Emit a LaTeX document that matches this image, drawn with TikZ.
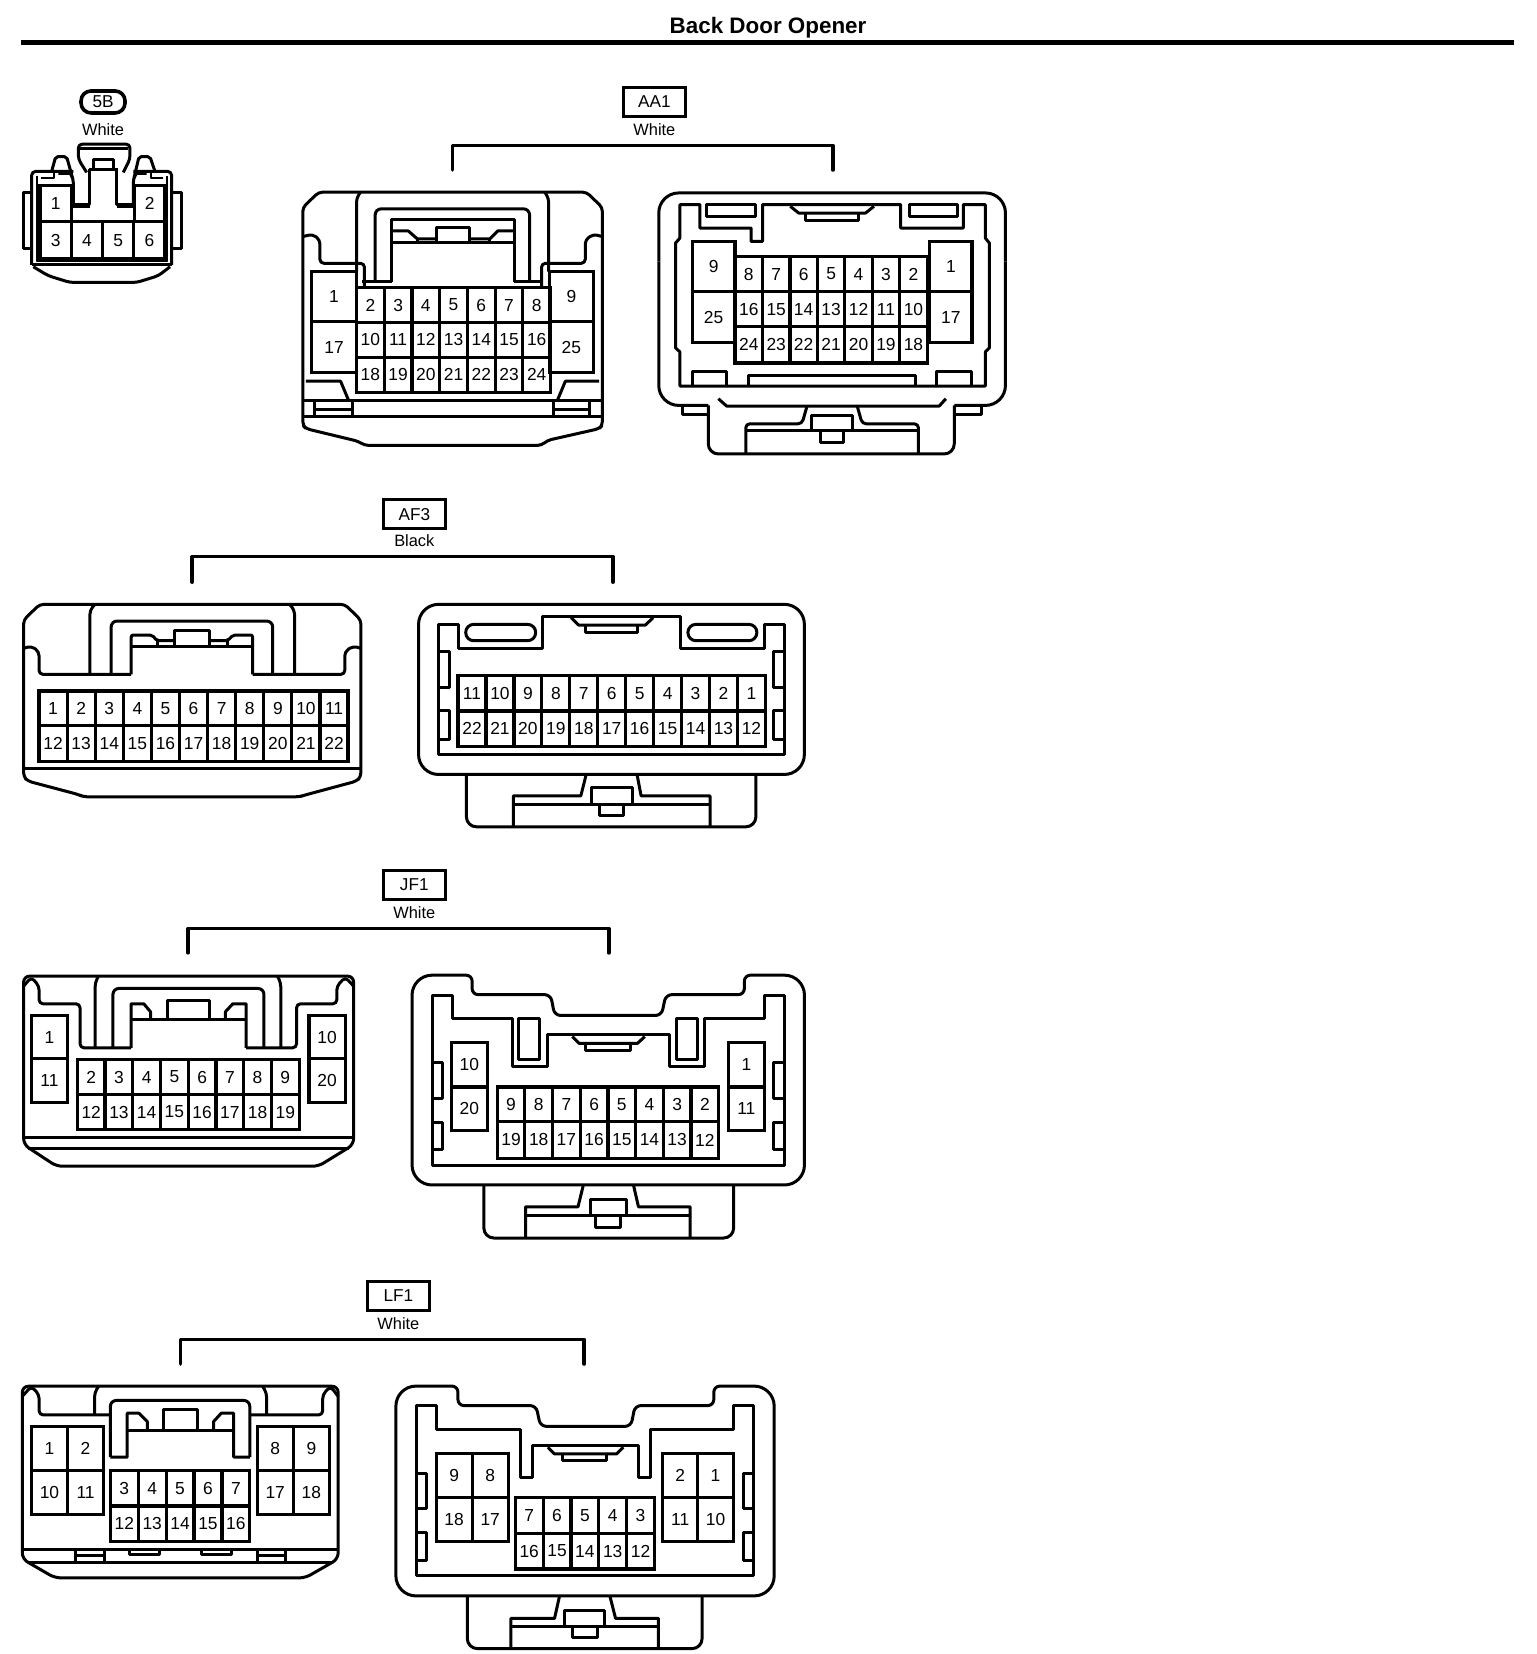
\documentclass[tikz,border=0pt]{standalone}
\usepackage{fontspec}
\setmainfont{Liberation Sans}
\usepackage{tikz}

\newcommand{\pinrow}[6]{%
  \foreach \lab [count=\i from 0] in {#2} {
    \draw [pinbox] ({#3+\i*#4},#5) rectangle node [pinlabel] (#1\lab) {\lab} ({#3+(\i+1)*#4},#6);
  }
}
\newcommand{\pincell}[6]{%
  \draw [pinbox] (#3,#4) rectangle node [pinlabel] (#1#2) {#2} (#5,#6);
}
\newcommand{\sidetab}[5]{%
  \draw [part] (#1,#3) -- (#2,#3) -- (#2,#4) -- (#1,#4);
  \draw [part] (#1,#5) -- (#2,#5);
}

\begin{document}
\begin{tikzpicture}
  [x=0.5312pt, y=-0.5312pt,
  part/.style={draw, line width=1.5pt, line join=round},
  thinpart/.style={draw, line width=0.9pt, line join=round},
  pinbox/.style={draw, line width=1.6pt, line join=miter},
  pinlabel/.style={font=\fontsize{8.7}{10}\selectfont, inner sep=0pt},
  tagbox/.style={rectangle, draw, line width=1.6pt, minimum width=31pt, minimum height=14.5pt, inner sep=0pt, font=\fontsize{8.6}{10}\selectfont},
  colour/.style={font=\fontsize{8.2}{10}\selectfont, inner sep=0pt},
  bracket/.style={draw, line width=1.8pt, line join=round, line cap=round},
  rule/.style={draw, line width=2.5pt}]
  \path [fill=white] (0,0) rectangle (1446,1557);
  \useasboundingbox (0,0) rectangle (1446,1557);

  % title
  \node [font=\bfseries\fontsize{11.2}{13}\selectfont, inner sep=0pt] (title) at (723,26) {Back Door Opener};
  \coordinate (rulea) at (20,40);
  \coordinate (ruleb) at (1425,40);
  \path [rule] (rulea) -- (ruleb);

  % labels
  \node [tagbox, minimum width=22pt, minimum height=11pt, rounded corners=5pt, line width=1.8pt] (tag5b) at (97,96) {5B};
  \node [colour] (col5b) at (97,122) {White};
  \node [tagbox] (tagaa1) at (616,96) {AA1};
  \node [colour] (colaa1) at (616,122) {White};
  \node [tagbox] (tagaf3) at (390,484) {AF3};
  \node [colour] (colaf3) at (390,509) {Black};
  \node [tagbox] (tagjf1) at (390,833) {JF1};
  \node [colour] (coljf1) at (390,859) {White};
  \node [tagbox] (taglf1) at (375,1220) {LF1};
  \node [colour] (collf1) at (375,1246) {White};

  % brackets
  \coordinate (aa1a) at (426,160);
  \coordinate (aa1t) at (605,137);
  \coordinate (aa1b) at (784,160);
  \path [bracket] (aa1a) |- (aa1t) -| (aa1b);
  \coordinate (af3a) at (181,548);
  \coordinate (af3t) at (379,524);
  \coordinate (af3b) at (577,548);
  \path [bracket] (af3a) |- (af3t) -| (af3b);
  \coordinate (jf1a) at (177,897);
  \coordinate (jf1t) at (375,874);
  \coordinate (jf1b) at (573,897);
  \path [bracket] (jf1a) |- (jf1t) -| (jf1b);
  \coordinate (lf1a) at (170,1284);
  \coordinate (lf1t) at (360,1261);
  \coordinate (lf1b) at (550,1284);
  \path [bracket] (lf1a) |- (lf1t) -| (lf1b);

  % 5B
  \begin{scope}[shift={(14.1,132.5)}, x=0.1667pt, y=-0.1667pt]
    \draw [part, rounded corners=2pt] (50,372) -- (50,92) -- (175,92);
    \draw [part, rounded corners=2pt] (355,92) -- (470,92) -- (470,372);
    \draw [part] (50,372) -- (470,372);
    \draw [thinpart] (65,105) -- (65,362) -- (457,362) -- (457,105);
    \draw [part] (50,155) -- (25,155) -- (25,322) -- (50,322);
    \draw [part] (470,155) -- (498,155) -- (498,322) -- (470,322);
    \draw [part, rounded corners=2pt] (55,378) -- (100,405) -- (165,425) -- (365,425) -- (430,405) -- (465,378);
    \draw [part, rounded corners=2pt] (215,95) -- (190,55) -- (190,10) -- (345,10) -- (345,55) -- (325,95);
    \draw [part] (195,22) -- (340,22);
    \draw [part] (235,85) -- (235,55) -- (295,55) -- (295,85);
    \draw [part] (222,85) -- (308,85);
    \draw [part] (225,85) -- (225,190) -- (175,190);
    \draw [part] (305,85) -- (305,190) -- (358,190);
    \draw [part] (175,197) -- (225,197);
    \draw [part] (305,197) -- (358,197);
    \draw [part, rounded corners=1pt] (110,92) -- (122,48) -- (155,48) -- (175,120) -- (175,197);
    \draw [part, rounded corners=1pt] (420,92) -- (405,48) -- (372,48) -- (355,120) -- (355,197);
    \draw [thinpart] (78,112) -- (118,112) -- (118,95);
    \draw [thinpart] (130,100) -- (165,100) -- (175,120);
    \draw [thinpart] (445,112) -- (408,112) -- (408,95);
    \draw [thinpart] (395,100) -- (365,100) -- (355,120);
    \pincell{c5b}{1}{75}{135}{170}{243}
    \pincell{c5b}{2}{358}{135}{450}{243}
    \pinrow{c5b}{3,4,5,6}{75}{93.75}{243}{355}
  \end{scope}

  % AA1 left
  \begin{scope}[shift={(0.4,1)}, x=0.19894pt, y=-0.16706pt]
    \draw [part, rounded corners=2pt] (800,572) -- (1473,572) -- (1513,618) -- (1513,1270) -- (1505,1280) -- (1375,1315) -- (1360,1330) -- (915,1330) -- (900,1318) -- (768,1280) -- (760,1270) -- (760,618) -- cycle;
    \draw [part, rounded corners=2pt] (895,810) -- (895,590) -- (905,572);
    \draw [part, rounded corners=2pt] (1378,810) -- (1378,590) -- (1368,572);
    \draw [part, rounded corners=3pt] (942,840) -- (942,622) -- (1330,622) -- (1330,840);
    \draw [part] (983,840) -- (983,655) -- (1292,655) -- (1292,840);
    \draw [part] (910,840) -- (983,840);
    \draw [part] (1292,840) -- (1365,840);
    \draw [part, rounded corners=2pt] (760,705) -- (785,698) -- (803,715) -- (803,785) -- (915,785) -- (915,858);
    \draw [part, rounded corners=2pt] (1513,705) -- (1490,698) -- (1470,715) -- (1470,785) -- (1360,785) -- (1360,858);
    \draw [part] (985,688) -- (1025,688) -- (1048,712) -- (1095,712);
    \draw [part] (1095,722) -- (1095,678) -- (1180,678) -- (1180,722);
    \draw [part] (1180,712) -- (1230,712) -- (1250,688) -- (1292,688);
    \draw [part] (985,722) -- (1292,722);
    \draw [part] (1048,712) -- (1048,722);
    \draw [part] (1230,712) -- (1230,722);
    \pinrow{aal}{2,3,4,5,6,7,8}{895}{69.7}{858}{962}
    \pinrow{aal}{10,11,12,13,14,15,16}{895}{69.7}{962}{1066}
    \pinrow{aal}{18,19,20,21,22,23,24}{895}{69.7}{1066}{1172}
    \pincell{aal}{1}{782}{810}{895}{960}
    \pincell{aal}{17}{782}{960}{895}{1112}
    \pincell{aal}{9}{1380}{810}{1490}{960}
    \pincell{aal}{25}{1380}{960}{1490}{1112}
    \draw [part] (768,1138) -- (855,1138) -- (875,1195);
    \draw [part] (1505,1138) -- (1420,1138) -- (1400,1195);
    \draw [part] (760,1195) -- (1513,1195);
    \draw [part] (760,1245) -- (1513,1245);
    \draw [part] (790,1195) -- (790,1245);
    \draw [part] (885,1195) -- (885,1245);
    \draw [part] (790,1222) -- (885,1222);
    \draw [part] (1390,1195) -- (1390,1245);
    \draw [part] (1480,1195) -- (1480,1245);
    \draw [part] (1390,1222) -- (1480,1222);
  \end{scope}

  % AA1 right
  \begin{scope}[shift={(588,57.2)}, x=0.16733pt, y=-0.16733pt]
    \draw [part, rounded corners=10pt] (102,600) -- (102,395) -- (1138,395) -- (1138,600);
    \draw [part, rounded corners=10pt] (102,600) -- (102,1030) -- (250,1030);
    \draw [part, rounded corners=10pt] (1138,600) -- (1138,1030) -- (985,1030);
    \draw [part] (172,1030) -- (172,1057) -- (250,1057);
    \draw [part] (1065,1030) -- (1065,1057) -- (985,1057);
    \draw [part, rounded corners=5pt] (250,1030) -- (250,1175) -- (985,1175) -- (985,1030);
    \draw [part] (165,430) -- (225,430) -- (225,500) -- (378,500) -- (378,540) -- (412,540) -- (412,430) -- (825,430) -- (825,500) -- (1012,500) -- (1012,430) -- (1078,430) -- (1078,530) -- (1090,545) -- (1090,858) -- (1078,870) -- (1078,972) -- (165,972) -- (165,870) -- (152,858) -- (152,545) -- (165,530) -- cycle;
    \draw [part] (245,430) rectangle (390,465);
    \draw [part] (850,430) rectangle (995,465);
    \draw [part] (495,435) -- (520,455) -- (720,455) -- (745,435);
    \draw [part] (540,455) -- (540,478) -- (698,478) -- (698,455);
    \pinrow{aar}{8,7,6,5,4,3,2}{330}{82}{585}{690}
    \pinrow{aar}{16,15,14,13,12,11,10}{330}{82}{690}{795}
    \pinrow{aar}{24,23,22,21,20,19,18}{330}{82}{795}{903}
    \pincell{aar}{9}{202}{540}{330}{690}
    \pincell{aar}{25}{202}{690}{330}{843}
    \pincell{aar}{1}{912}{540}{1038}{690}
    \pincell{aar}{17}{912}{690}{1038}{843}
    \draw [part] (202,972) -- (202,928) -- (305,928) -- (305,972);
    \draw [part] (370,972) -- (370,940) -- (868,940) -- (868,972);
    \draw [part] (933,972) -- (933,928) -- (1038,928) -- (1038,972);
    \draw [part] (280,1010) -- (305,1032) -- (940,1032) -- (960,1010);
    \draw [part, rounded corners=2pt] (545,1032) -- (530,1085) -- (362,1085) -- (362,1175);
    \draw [part, rounded corners=2pt] (695,1032) -- (710,1085) -- (878,1085) -- (878,1175);
    \draw [part] (362,1105) -- (878,1105);
    \draw [part] (558,1105) -- (558,1060) -- (680,1060) -- (680,1105);
    \draw [part] (585,1105) -- (585,1142) -- (655,1142) -- (655,1105);
  \end{scope}

  % AF3 left
  \begin{scope}[shift={(-0.5,456.5)}, x=0.16765pt, y=-0.1668pt]
    \draw [part, rounded corners=2pt] (120,358) -- (1030,358) -- (1078,405) -- (1078,875) -- (1065,888) -- (910,930) -- (895,935) -- (250,935) -- (235,928) -- (85,888) -- (72,875) -- (72,405) -- cycle;
    \draw [part, rounded corners=2pt] (270,568) -- (270,375) -- (285,358);
    \draw [part, rounded corners=2pt] (880,568) -- (880,375) -- (865,358);
    \draw [part, rounded corners=3pt] (333,568) -- (333,408) -- (815,408) -- (815,568);
    \draw [part, rounded corners=1pt] (393,568) -- (393,450) -- (455,450) -- (470,467) -- (523,467);
    \draw [part] (523,485) -- (523,437) -- (625,437) -- (625,485);
    \draw [part, rounded corners=1pt] (625,467) -- (680,467) -- (697,450) -- (755,450) -- (755,568);
    \draw [part] (393,485) -- (755,485);
    \draw [part] (470,467) -- (470,485);
    \draw [part] (680,467) -- (680,485);
    \draw [part, rounded corners=2pt] (72,490) -- (95,483) -- (118,500) -- (118,568) -- (393,568);
    \draw [part, rounded corners=2pt] (1078,490) -- (1055,483) -- (1030,500) -- (1030,568) -- (755,568);
    \pinrow{afl}{1,2,3,4,5,6,7,8,9,10,11}{118}{83.8}{618}{722}
    \pinrow{afl}{12,13,14,15,16,17,18,19,20,21,22}{118}{83.8}{722}{828}
    \draw [part] (72,850) -- (1078,850);
  \end{scope}

  % AF3 right
  \begin{scope}[shift={(379.2,456.5)}, x=0.16733pt, y=-0.1668pt]
    \draw [part, rounded corners=10pt] (47,358) rectangle (1200,868);
    \draw [part] (108,418) -- (165,418) -- (165,490) -- (418,490) -- (418,395) -- (830,395) -- (830,490) -- (1082,490) -- (1082,418) -- (1140,418) -- (1140,808) -- (108,808) -- cycle;
    \draw [part, rounded corners=4pt] (188,418) rectangle (397,467);
    \draw [part, rounded corners=4pt] (852,418) rectangle (1058,467);
    \draw [part] (503,398) -- (525,420) -- (725,420) -- (748,398);
    \draw [part] (545,420) -- (545,443) -- (702,443) -- (702,420);
    \sidetab{108}{138}{500}{607}{607}
    \sidetab{108}{138}{675}{762}{762}
    \sidetab{1140}{1108}{500}{607}{607}
    \sidetab{1140}{1108}{675}{762}{762}
    \pinrow{afr}{11,10,9,8,7,6,5,4,3,2,1}{165}{83.5}{572}{678}
    \pinrow{afr}{22,21,20,19,18,17,16,15,14,13,12}{165}{83.5}{678}{783}
    \draw [part, rounded corners=5pt] (190,868) -- (190,1025) -- (1055,1025) -- (1055,868);
    \draw [part] (548,868) -- (532,932) -- (330,932) -- (330,1025);
    \draw [part] (700,868) -- (712,932) -- (918,932) -- (918,1025);
    \draw [part] (330,958) -- (918,958);
    \draw [part] (565,958) -- (565,908) -- (685,908) -- (685,958);
    \draw [part] (587,958) -- (587,992) -- (660,992) -- (660,958);
  \end{scope}

  % JF1 left
  \begin{scope}[shift={(-0.5,807.4)}, x=0.16786pt, y=-0.1668pt]
    \draw [part, rounded corners=3pt] (72,355) -- (1055,355) -- (1055,860) -- (950,925) -- (170,925) -- (72,860) -- cycle;
    \draw [part] (72,838) -- (1055,838);
    \draw [part] (85,873) -- (1040,873);
    \draw [part, rounded corners=2pt] (72,385) -- (95,358) -- (118,385) -- (118,438) -- (240,438) -- (240,570) -- (392,570);
    \draw [part, rounded corners=2pt] (1055,385) -- (1030,358) -- (1005,385) -- (1005,438) -- (885,438) -- (885,570) -- (735,570);
    \draw [part, rounded corners=2pt] (285,570) -- (285,375) -- (295,355);
    \draw [part, rounded corners=2pt] (838,570) -- (838,375) -- (828,355);
    \draw [part, rounded corners=3pt] (338,570) -- (338,392) -- (788,392) -- (788,570);
    \draw [part] (392,570) -- (392,438) -- (430,438) -- (450,462) -- (450,485);
    \draw [part] (735,570) -- (735,438) -- (695,438) -- (673,462) -- (673,485);
    \draw [part] (392,485) -- (735,485);
    \draw [part] (500,485) -- (500,428) -- (625,428) -- (625,485);
    \pinrow{jfl}{2,3,4,5,6,7,8,9}{232}{82.6}{605}{710}
    \pinrow{jfl}{12,13,14,15,16,17,18,19}{232}{82.6}{710}{815}
    \pincell{jfl}{1}{95}{473}{203}{603}
    \pincell{jfl}{11}{95}{603}{203}{735}
    \pincell{jfl}{10}{922}{473}{1030}{603}
    \pincell{jfl}{20}{922}{603}{1030}{735}
  \end{scope}

  % JF1 right
  \begin{scope}[shift={(380,900.6)}, x=0.16701pt, y=-0.16786pt]
    \draw [part, rounded corners=10pt] (25,300) -- (25,55) [rounded corners=3pt] -- (205,55) -- (205,113) -- (440,113) -- (452,175) -- (772,175) -- (785,113) -- (1020,113) -- (1020,55) [rounded corners=10pt] -- (1200,55) -- (1200,680) -- (25,680) -- cycle;
    \draw [part] (85,115) -- (147,115) -- (147,185) -- (325,185) -- (325,328) -- (430,328) -- (430,232) -- (795,232) -- (795,328) -- (900,328) -- (900,185) -- (1080,185) -- (1080,115) -- (1140,115) -- (1140,622) -- (85,622) -- cycle;
    \draw [part] (345,185) rectangle (408,305);
    \draw [part] (818,185) rectangle (880,305);
    \draw [part] (505,238) -- (525,258) -- (700,258) -- (722,238);
    \draw [part] (545,258) -- (545,280) -- (680,280) -- (680,258);
    \sidetab{85}{115}{315}{422}{422}
    \sidetab{85}{115}{495}{575}{575}
    \sidetab{1140}{1108}{315}{422}{422}
    \sidetab{1140}{1108}{495}{575}{575}
    \pinrow{jfr}{9,8,7,6,5,4,3,2}{280}{82.9}{388}{492}
    \pinrow{jfr}{19,18,17,16,15,14,13,12}{280}{82.9}{492}{600}
    \pincell{jfr}{10}{143}{255}{250}{388}
    \pincell{jfr}{20}{143}{388}{250}{518}
    \pincell{jfr}{1}{972}{255}{1080}{388}
    \pincell{jfr}{11}{972}{388}{1080}{518}
    \draw [part, rounded corners=5pt] (240,680) -- (240,838) -- (988,838) -- (988,680);
    \draw [part] (538,680) -- (522,745) -- (365,745) -- (365,838);
    \draw [part] (688,680) -- (703,745) -- (858,745) -- (858,838);
    \draw [part] (365,770) -- (858,770);
    \draw [part] (560,770) -- (560,722) -- (668,722) -- (668,770);
    \draw [part] (575,770) -- (575,808) -- (648,808) -- (648,770);
  \end{scope}

  % LF1 left
  \begin{scope}[shift={(-0.5,1203.3)}, x=0.16802pt, y=-0.16871pt]
    \draw [part, rounded corners=3pt] (68,320) -- (1008,320) -- (1008,832) -- (910,888) -- (165,888) -- (68,832) -- cycle;
    \draw [part, rounded corners=2pt] (68,350) -- (95,320) -- (118,345) -- (118,405) -- (330,405);
    \draw [part, rounded corners=2pt] (1008,350) -- (985,320) -- (962,345) -- (962,405) -- (745,405);
    \draw [part, rounded corners=2pt] (283,405) -- (283,340) -- (295,320);
    \draw [part, rounded corners=2pt] (795,405) -- (795,340) -- (783,320);
    \draw [part, rounded corners=3pt] (330,530) -- (330,362) -- (745,362) -- (745,530);
    \draw [part] (745,530) -- (697,530) -- (697,400) -- (660,400) -- (637,425) -- (637,450);
    \draw [part] (330,530) -- (380,530) -- (380,400) -- (415,400) -- (440,425) -- (440,450);
    \draw [part] (380,450) -- (697,450);
    \draw [part] (487,450) -- (487,390) -- (590,390) -- (590,450);
    \pinrow{lfl}{3,4,5,6,7}{330}{83}{570}{675}
    \pinrow{lfl}{12,13,14,15,16}{330}{83}{675}{780}
    \pinrow{lfl}{1,2}{95}{107.5}{440}{570}
    \pinrow{lfl}{10,11}{95}{107.5}{570}{700}
    \pinrow{lfl}{8,9}{767}{107.5}{440}{570}
    \pinrow{lfl}{17,18}{767}{107.5}{570}{700}
    \draw [part] (68,803) -- (1008,803);
    \draw [part] (85,842) -- (990,842);
    \draw [part] (225,803) -- (225,842);
    \draw [part] (312,803) -- (312,842);
    \draw [part] (228,822) -- (310,822);
    \draw [part] (768,803) -- (768,842);
    \draw [part] (852,803) -- (852,842);
    \draw [part] (770,822) -- (850,822);
    \draw [part] (387,805) -- (387,818) -- (475,818) -- (475,805);
    \draw [part] (602,805) -- (602,818) -- (690,818) -- (690,805);
  \end{scope}

  % LF1 right
  \begin{scope}[shift={(361,1289)}, x=0.1677pt, y=-0.16786pt]
    \draw [part, rounded corners=10pt] (37,300) -- (37,50) [rounded corners=3pt] -- (222,50) -- (222,108) -- (455,108) -- (468,170) -- (738,170) -- (750,108) -- (985,108) -- (985,50) [rounded corners=10pt] -- (1165,50) -- (1165,675) -- (37,675) -- cycle;
    \draw [part] (98,108) -- (158,108) -- (158,180) -- (408,180) -- (408,322) -- (443,322) -- (443,228) -- (760,228) -- (760,322) -- (797,322) -- (797,180) -- (1043,180) -- (1043,108) -- (1103,108) -- (1103,615) -- (98,615) -- cycle;
    \draw [part] (490,232) -- (510,252) -- (695,252) -- (715,232);
    \draw [part] (535,252) -- (535,273) -- (665,273) -- (665,252);
    \sidetab{98}{127}{310}{415}{415}
    \sidetab{98}{127}{487}{570}{570}
    \sidetab{1103}{1072}{310}{415}{415}
    \sidetab{1103}{1072}{487}{570}{570}
    \pinrow{lfr}{7,6,5,4,3}{393}{83}{382}{488}
    \pinrow{lfr}{16,15,14,13,12}{393}{83}{488}{595}
    \pinrow{lfr}{9,8}{157}{107.5}{250}{382}
    \pinrow{lfr}{18,17}{157}{107.5}{382}{512}
    \pinrow{lfr}{2,1}{832}{105.5}{250}{382}
    \pinrow{lfr}{11,10}{832}{105.5}{382}{512}
    \draw [part, rounded corners=5pt] (250,675) -- (250,832) -- (950,832) -- (950,675);
    \draw [part] (525,675) -- (510,742) -- (380,742) -- (380,832);
    \draw [part] (675,675) -- (692,742) -- (820,742) -- (820,832);
    \draw [part] (380,765) -- (820,765);
    \draw [part] (540,765) -- (540,718) -- (660,718) -- (660,765);
    \draw [part] (565,765) -- (565,800) -- (638,800) -- (638,765);
  \end{scope}
\end{tikzpicture}
\end{document}
